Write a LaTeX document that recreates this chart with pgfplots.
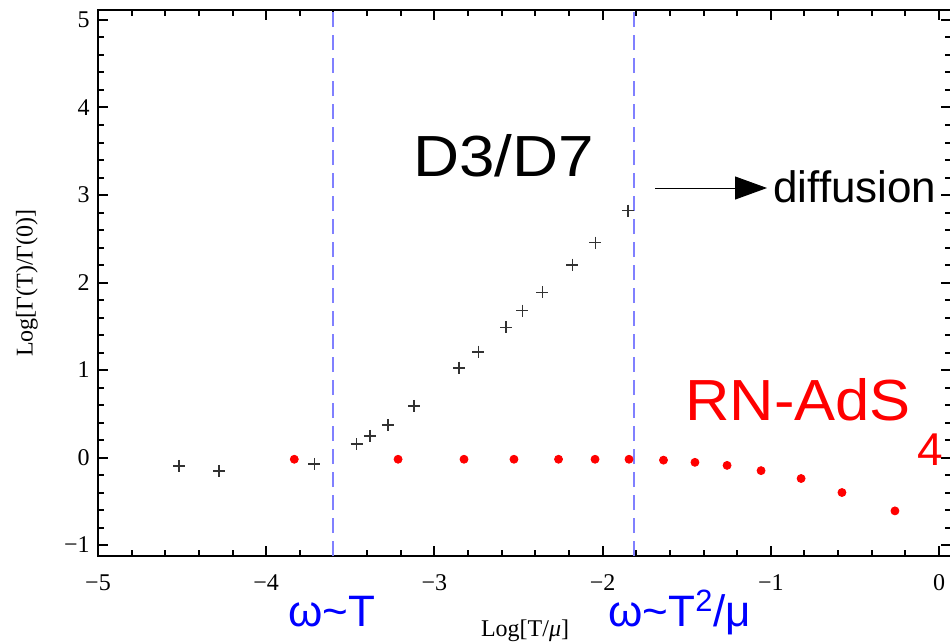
\documentclass[border=0pt]{standalone}
\usepackage{pgfplots}
\pgfplotsset{compat=1.18}
\usepackage{fontspec}
\usepackage{graphicx}
\usetikzlibrary{arrows.meta}
\setmainfont{Liberation Serif}
\newfontfamily\arial{Liberation Sans}
\definecolor{dashblue}{RGB}{128,128,255}
\definecolor{crossgray}{RGB}{50,50,50}
\begin{document}
\begin{tikzpicture}
\begin{axis}[
  x=84.1pt, y=43.75pt,
  xmin=-5, xmax=0.071, ymin=-1.126, ymax=5.114,
  clip=false,
  axis line style={line width=1.4pt, black},
  xtick={-5,-4,-3,-2,-1,0},
  xticklabels={−5,−4,−3,−2,−1,0},
  ytick={-1,0,1,2,3,4,5},
  yticklabels={−1,0,1,2,3,4,5},
  minor x tick num=4, minor y tick num=4,
  tick align=inside,
  major tick length=5pt, minor tick length=2.8pt,
  every tick/.style={black, line width=1pt},
  xticklabel style={font=\fontsize{12}{13}\selectfont, inner sep=0pt, anchor=base, yshift=-17pt},
  yticklabel style={font=\fontsize{12}{13}\selectfont, inner sep=0pt, anchor=east, xshift=-4pt},
]
\addplot[dashblue, line width=1pt, dash pattern=on 7.5pt off 4pt] coordinates {(-3.603,-1.126) (-3.603,5.114)};
\addplot[dashblue, line width=1pt, dash pattern=on 7.5pt off 4pt] coordinates {(-1.813,-1.126) (-1.813,5.114)};
\addplot[only marks, mark=+, mark size=3pt, crossgray, mark options={line width=0.8pt}] coordinates {
(-4.517,-0.097) (-4.281,-0.154) (-3.714,-0.074) (-3.462,0.154) (-3.383,0.246)
(-3.276,0.371) (-3.121,0.589) (-2.852,1.026) (-2.739,1.209) (-2.574,1.488)
(-2.477,1.678) (-2.358,1.888) (-2.180,2.203) (-2.043,2.455) (-1.849,2.821)};
\addplot[only marks, mark=*, mark size=2pt, red, mark options={draw=none, fill=red}] coordinates {
(-3.833,-0.02) (-3.216,-0.02) (-2.824,-0.02) (-2.527,-0.02) (-2.262,-0.02)
(-2.045,-0.02) (-1.843,-0.02) (-1.638,-0.03) (-1.451,-0.055) (-1.260,-0.09)
(-1.058,-0.15) (-0.820,-0.24) (-0.577,-0.40) (-0.262,-0.61)};
% annotations
\node[anchor=base west, inner sep=0pt] at (axis cs:-3.127,3.206) {\arial\fontsize{29}{30}\selectfont\scalebox{1.1}[1]{D3/D7}};
\draw[line width=0.5pt, -{Triangle[length=16pt,width=11.5pt]}] (axis cs:-1.688,3.08) -- (axis cs:-1.0226,3.08);
\node[anchor=base west, inner sep=0pt] at (axis cs:-0.987,2.909) {\arial\fontsize{22}{24}\selectfont diffusion};
\node[anchor=base west, inner sep=0pt, text=red] at (axis cs:-1.510,0.4286) {\arial\fontsize{29}{30}\selectfont\scalebox{1.06}[1]{RN-AdS}};
\node[anchor=base west, inner sep=0pt, text=red] at (axis cs:-0.1308,-0.097) {\arial\fontsize{23}{24}\selectfont 4};
\node[anchor=base west, inner sep=0pt, text=blue] at (axis cs:-3.870,-1.937) {\arial\fontsize{22}{24}\selectfont ω\textasciitilde T};
\node[anchor=base west, inner sep=0pt, text=blue] at (axis cs:-1.968,-1.937) {\arial\fontsize{22}{24}\selectfont ω\textasciitilde T\textsuperscript{2}/μ};
\node[anchor=base, inner sep=0pt] at (axis cs:-2.461,-2.04) {\fontsize{12}{13}\selectfont Log[T/\textit{μ}]};
\node[anchor=center, inner sep=0pt, rotate=90] at (axis cs:-5.422,1.994) {\fontsize{12}{13}\selectfont Log[Γ(T)/Γ(0)]};
\coordinate (bbBL) at (axis cs:-5.5826,-2.12);
\coordinate (bbTR) at (axis cs:0.0654,5.2286);
\end{axis}
\pgfresetboundingbox
\path[use as bounding box] (bbBL) rectangle (bbTR);
\end{tikzpicture}
\end{document}
